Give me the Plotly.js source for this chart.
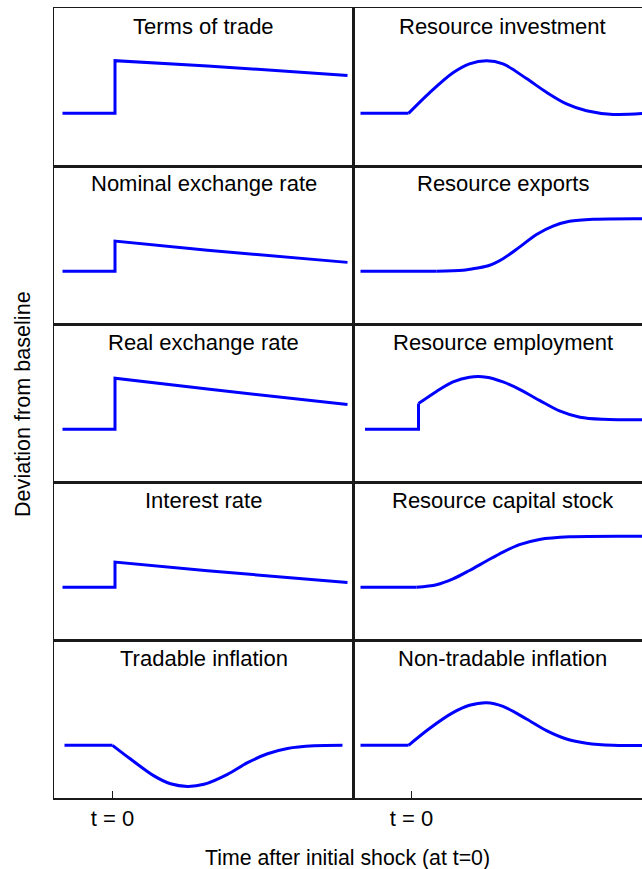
<!DOCTYPE html>
<html>
<head>
<meta charset="utf-8">
<script src="https://cdn.plot.ly/plotly-3.0.1.min.js"></script>
<style>
html, body { margin: 0; padding: 0; overflow: hidden; background: #fff; }
#chart { width: 660px; height: 869px; }
</style>
</head>
<body>
<div id="chart"></div>
<script>
// ---------------- data ----------------
// Time is in periods relative to the initial shock (t = 0)
const panelTitles = [
  'Terms of trade', 'Resource investment',
  'Nominal exchange rate', 'Resource exports',
  'Real exchange rate', 'Resource employment',
  'Interest rate', 'Resource capital stock',
  'Tradable inflation', 'Non-tradable inflation'
];
const tickLabels = ['t = 0'];
const tickPositions = [0];
const xAxisTitle = 'Time after initial shock (at t=0)';
const yAxisTitle = 'Deviation from baseline';

// Left column: step-then-decline series
const tStep = [-10, 0.5, 0.5, 19, 47];
const termsOfTrade      = [0, 0, 1.00, 0.90, 0.72];
const nominalExchange   = [0, 0, 0.575, 0.40, 0.17];
const realExchange      = [0, 0, 0.97, 0.765, 0.47];
const interestRate      = [0, 0, 0.48, 0.315, 0.09];

// Tradable inflation
const tTradInfl = [-9.6, 0, 3.6, 8.3, 11.6, 15, 18.3, 23, 27, 31, 35, 40.3, 46];
const tradableInflation = [0, 0, -0.26, -0.58, -0.73, -0.78, -0.74, -0.55, -0.33, -0.16, -0.06, -0.01, 0];

// Right column
const tResInv = [-10.2, -0.6, 3.6, 8.3, 11.6, 15.0, 18.3, 23, 27, 31, 35, 40.3, 47];
const resourceInvestment = [0, 0, 0.39, 0.77, 0.94, 1.0, 0.94, 0.66, 0.40, 0.18, 0.05, -0.02, 0];

const tResExp = [-10.2, 5, 10.3, 13, 15.5, 18.3, 21.6, 25, 28.3, 31.6, 36.3, 47];
const resourceExports = [0, 0, 0.02, 0.06, 0.11, 0.24, 0.46, 0.70, 0.86, 0.95, 0.99, 1.0];

const tResEmp = [-9.3, 1.4, 1.4, 5, 8.3, 11.6, 15, 18.3, 21.6, 25.6, 29.6, 33.7, 38.3, 47];
const resourceEmployment = [0, 0, 0.49, 0.72, 0.90, 0.99, 0.99, 0.90, 0.76, 0.55, 0.35, 0.23, 0.19, 0.18];

const tResCap = [-10.2, 1.0, 5, 8.3, 11.6, 15, 18.3, 21.6, 25.6, 31.6, 47];
const resourceCapital = [0, 0, 0.05, 0.16, 0.32, 0.50, 0.67, 0.81, 0.91, 0.96, 0.97];

const tNonTrad = [-10.2, -0.6, 3.6, 8.3, 11.6, 15, 18.3, 23, 27, 31, 35, 40.3, 47];
const nonTradableInflation = [0, 0, 0.32, 0.62, 0.76, 0.81, 0.74, 0.50, 0.28, 0.12, 0.04, 0, 0];

// ---------------- chart construction ----------------
const W = 660, H = 869;
const FONT = 'Liberation Sans, Arial, Helvetica, sans-serif';
const LINE_BLUE = '#0000ff';
const BORDER = '#1a1a1a';

// panel order: row-major, [left, right]
// splitAt: last index of the straight (linear) part; the rest is drawn as a smooth curve
const panels = [
  {t: tStep, v: termsOfTrade, splitAt: null},
  {t: tResInv, v: resourceInvestment, splitAt: 1},
  {t: tStep, v: nominalExchange, splitAt: null},
  {t: tResExp, v: resourceExports, splitAt: 1},
  {t: tStep, v: realExchange, splitAt: null},
  {t: tResEmp, v: resourceEmployment, splitAt: 2},
  {t: tStep, v: interestRate, splitAt: null},
  {t: tResCap, v: resourceCapital, splitAt: 1},
  {t: tTradInfl, v: tradableInflation, splitAt: 1},
  {t: tNonTrad, v: nonTradableInflation, splitAt: 1}
];

const colX = [[54, 353], [353, 652]];
const top0 = 8, rowH = 158;

const traces = [];
const layout = {
  width: W, height: H,
  margin: {l: 0, r: 0, t: 0, b: 0},
  paper_bgcolor: '#ffffff',
  plot_bgcolor: '#ffffff',
  showlegend: false,
  font: {family: FONT, size: 22, color: '#000000'},
  annotations: []
};

panels.forEach((p, i) => {
  const row = Math.floor(i / 2), col = i % 2;
  const n = i + 1;
  const xa = 'x' + (n === 1 ? '' : n), ya = 'y' + (n === 1 ? '' : n);
  const line = {color: LINE_BLUE, width: 3};
  if (p.splitAt === null) {
    traces.push({x: p.t, y: p.v, mode: 'lines',
      line: Object.assign({}, line, {shape: 'linear'}),
      xaxis: xa, yaxis: ya, hoverinfo: 'skip'});
  } else {
    traces.push({x: p.t.slice(0, p.splitAt + 1), y: p.v.slice(0, p.splitAt + 1),
      mode: 'lines', line: Object.assign({}, line, {shape: 'linear'}),
      xaxis: xa, yaxis: ya, hoverinfo: 'skip'});
    traces.push({x: p.t.slice(p.splitAt), y: p.v.slice(p.splitAt),
      mode: 'lines', line: Object.assign({}, line, {shape: 'spline', smoothing: 0.9}),
      xaxis: xa, yaxis: ya, hoverinfo: 'skip'});
  }
  const rTop = top0 + row * rowH, rBot = rTop + rowH;
  const bottomRow = row === 4;
  layout['xaxis' + (n === 1 ? '' : n)] = {
    domain: [colX[col][0] / W, colX[col][1] / W],
    anchor: ya,
    range: [-11.7, 48.1],
    showgrid: false, zeroline: false,
    showline: true, mirror: true, linecolor: BORDER, linewidth: 1.5,
    ticks: bottomRow ? 'inside' : '',
    ticklen: 7, tickwidth: 1, tickcolor: BORDER,
    tickvals: tickPositions, ticktext: tickLabels,
    showticklabels: bottomRow,
    ticklabelstandoff: 0,
    tickfont: {family: FONT, size: 22, color: '#000'},
    fixedrange: true
  };
  layout['yaxis' + (n === 1 ? '' : n)] = {
    domain: [1 - rBot / H, 1 - rTop / H],
    anchor: xa,
    range: [-1, 2],
    showgrid: false, zeroline: false,
    showline: true, mirror: true, linecolor: BORDER, linewidth: 1.5,
    ticks: '', showticklabels: false,
    fixedrange: true
  };
  layout.annotations.push({
    text: panelTitles[i],
    xref: 'paper', yref: 'paper',
    x: (colX[col][0] + colX[col][1]) / 2 / W,
    y: 1 - (rTop + 18) / H,
    xanchor: 'center', yanchor: 'middle',
    showarrow: false,
    font: {family: FONT, size: 22, color: '#000'}
  });
});

layout.annotations.push({
  text: xAxisTitle, xref: 'paper', yref: 'paper',
  x: 347 / W, y: 1 - 858 / H, xanchor: 'center', yanchor: 'middle',
  showarrow: false, font: {family: FONT, size: 21.3, color: '#000'}
});
layout.annotations.push({
  text: yAxisTitle, xref: 'paper', yref: 'paper',
  x: 22 / W, y: 1 - 404 / H, xanchor: 'center', yanchor: 'middle',
  textangle: -90,
  showarrow: false, font: {family: FONT, size: 21.6, color: '#000'}
});

Plotly.newPlot('chart', traces, layout, {staticPlot: true, displayModeBar: false});
</script>
</body>
</html>
